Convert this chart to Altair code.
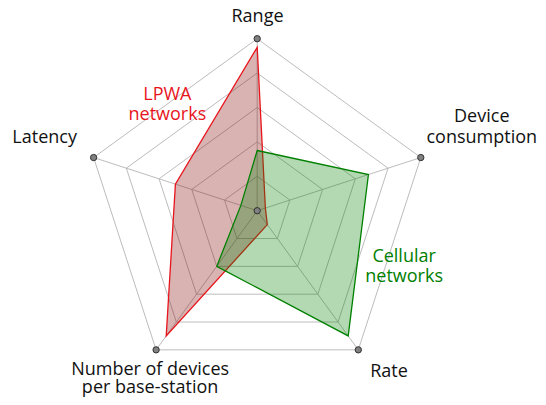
import altair as alt
import pandas as pd
import numpy as np

# ---- data ----
axes_labels = ["Range", "Device\nconsumption", "Rate", "Number of devices\nper base-station", "Latency"]
lpwa = [0.95, 0.05, 0.10, 0.90, 0.50]
cellular = [0.35, 0.68, 0.90, 0.40, 0.10]
grid_levels = [0.2, 0.4, 0.6, 0.8, 1.0]
series_names = ["LPWA\nnetworks", "Cellular\nnetworks"]

# ---- layout (styles / positions, not data) ----
W, H = 530, 389
R_PX = 172.0
CX, CY = 249.2, 202.7
FONT = "Open Sans"
FS = 18
RED, RED_FILL = "#e8141c", "#800000"
GREEN, GREEN_FILL = "#008000", "#008000"
# (dx, dy, lineHeight) relative to each axis end
label_offsets = [(0.3, -16.7, 20), (61, -35.8, 21), (30.7, 26.8, 20), (-6, 25.0, 18), (-49, -14.2, 20)]
series_label_polar = [(321, 0.83), (109.3, 0.905)]

n = len(axes_labels)
theta = np.deg2rad(np.arange(n) * 360.0 / n)

xdom = [-CX / R_PX, (W - CX) / R_PX]
ydom = [-(H - CY) / R_PX, CY / R_PX]

def X(f="x"):
    return alt.X(f"{f}:Q", scale=alt.Scale(domain=xdom, nice=False, zero=False), axis=None)

def Y(f="y"):
    return alt.Y(f"{f}:Q", scale=alt.Scale(domain=ydom, nice=False, zero=False), axis=None)

# grid rings
rows = []
for lv in grid_levels:
    for i in range(n):
        rows.append({"level": lv, "idx": i, "x": lv * np.sin(theta[i]), "y": lv * np.cos(theta[i])})
grid_df = pd.DataFrame(rows)

spoke_df = pd.DataFrame({"x": 0.0, "y": 0.0, "x2": np.sin(theta), "y2": np.cos(theta)})

def poly(vals, name):
    return pd.DataFrame({"series": name, "idx": range(n),
                         "x": np.array(vals) * np.sin(theta), "y": np.array(vals) * np.cos(theta)})

lp_df = poly(lpwa, "LPWA")
ce_df = poly(cellular, "Cellular")

pts_df = pd.DataFrame({"x": list(np.sin(theta)) + [0.0], "y": list(np.cos(theta)) + [0.0]})

grid = alt.Chart(grid_df).mark_line(interpolate="linear-closed", stroke="#b4b4b4", strokeWidth=0.9).encode(
    x=X(), y=Y(), detail="level:N", order="idx:Q")
spokes = alt.Chart(spoke_df).mark_rule(stroke="#b4b4b4", strokeWidth=0.9).encode(
    x=X(), y=Y(), x2="x2:Q", y2="y2:Q")

lp = alt.Chart(lp_df).mark_line(interpolate="linear-closed", stroke=RED, strokeWidth=1.3,
                                fill=RED_FILL, fillOpacity=0.3).encode(x=X(), y=Y(), order="idx:Q")
ce = alt.Chart(ce_df).mark_line(interpolate="linear-closed", stroke=GREEN, strokeWidth=1.3,
                                fill=GREEN_FILL, fillOpacity=0.3).encode(x=X(), y=Y(), order="idx:Q")

pts = alt.Chart(pts_df).mark_point(filled=True, fill="#808080", stroke="#303030", strokeWidth=1,
                                   size=40, opacity=1).encode(x=X(), y=Y())

layers = [grid, spokes, lp, ce, pts]

for i, lab in enumerate(axes_labels):
    d = pd.DataFrame({"x": [np.sin(theta[i])], "y": [np.cos(theta[i])], "t": [lab]})
    dx, dy, lh = label_offsets[i]
    layers.append(alt.Chart(d).mark_text(font=FONT, fontSize=FS, color="#111111", align="center",
                                         baseline="alphabetic", lineBreak="\n", lineHeight=lh,
                                         dx=dx, dy=dy).encode(x=X(), y=Y(), text="t:N"))

for (ang, rr), name, col in zip(series_label_polar, series_names, [RED, GREEN]):
    a = np.deg2rad(ang)
    d = pd.DataFrame({"x": [rr * np.sin(a)], "y": [rr * np.cos(a)], "t": [name]})
    layers.append(alt.Chart(d).mark_text(font=FONT, fontSize=FS, color=col, align="center",
                                         baseline="alphabetic", lineBreak="\n", lineHeight=20
                                         ).encode(x=X(), y=Y(), text="t:N"))

chart = alt.layer(*layers).properties(
    width=W, height=H, autosize=alt.AutoSizeParams(type="none"), padding=0
).configure_view(stroke=None)

chart.save("out.html", embed_options={"renderer": "svg", "actions": False})
